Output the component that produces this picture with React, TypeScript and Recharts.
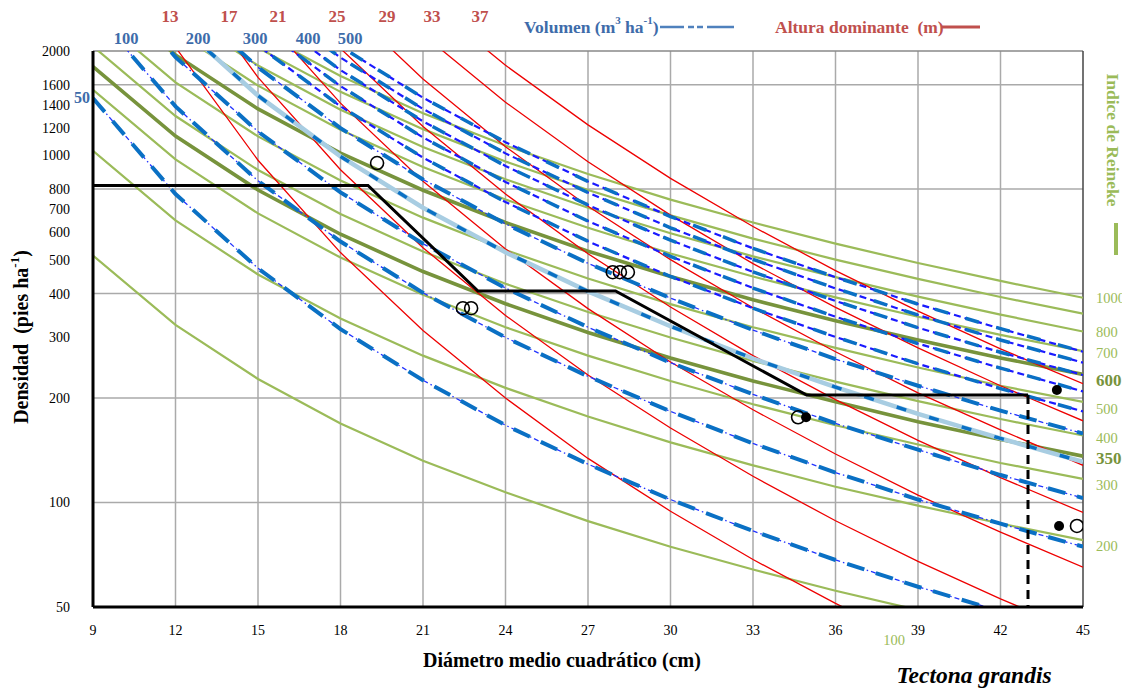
import React from 'react';
import { ComposedChart, Line, Scatter, XAxis, YAxis, CartesianGrid, ReferenceLine } from 'recharts';

// Diámetro medio cuadrático (cm) sample points
const diameters = [9, 12, 15, 18, 21, 24, 27, 30, 33, 36, 39, 42, 45];

// Indice de Reineke lines (pies/ha at each diameter)
const reineke100 = [515, 325, 227, 169, 132, 107, 88.4, 74.6, 64.1, 55.7, 49.0, 43.5, 38.9];
const reineke200 = [1031, 650, 454, 339, 265, 214, 177, 149, 128, 111, 98.0, 87.0, 77.9];
const reineke300 = [1546, 974, 681, 508, 397, 320, 265, 224, 192, 167, 147, 130, 117];
const reineke350 = [1804, 1137, 795, 593, 463, 374, 309, 261, 224, 195, 171, 152, 136];
const reineke400 = [2062, 1299, 908, 678, 529, 427, 354, 299, 256, 223, 196, 174, 156];
const reineke500 = [2577, 1624, 1135, 847, 662, 534, 442, 373, 320, 279, 245, 217, 195];
const reineke600 = [3092, 1949, 1362, 1016, 794, 641, 530, 448, 384, 334, 294, 261, 234];
const reineke700 = [3608, 2274, 1589, 1186, 926, 747, 619, 522, 448, 390, 343, 304, 273];
const reineke800 = [4123, 2598, 1816, 1355, 1058, 854, 707, 597, 512, 446, 392, 348, 311];
const reineke900 = [4639, 2923, 2043, 1525, 1191, 961, 795, 672, 576, 501, 441, 391, 350];
const reineke1000 = [5154, 3248, 2270, 1694, 1323, 1068, 884, 746, 641, 557, 490, 435, 389];

// Altura dominante (m) lines
const altura13 = [5393, 2051, 969, 525, 313, 200, 134, 94.4, 68.5, 51.2, 39.1, 30.5, 24.2];
const altura17 = [9347, 3555, 1679, 910, 542, 346, 233, 164, 119, 88.6, 67.7, 52.8, 41.9];
const altura21 = [14535, 5528, 2612, 1415, 843, 538, 362, 254, 185, 138, 105, 82.2, 65.1];
const altura25 = [20890, 7943, 3753, 2034, 1212, 774, 521, 366, 265, 198, 151, 118, 93.6];
const altura29 = [28620, 10887, 5143, 2787, 1661, 1060, 714, 501, 364, 272, 207, 162, 128];
const altura33 = [38440, 14619, 6906, 3743, 2230, 1424, 959, 673, 488, 365, 279, 217, 172];
const altura37 = [49100, 18676, 8822, 4782, 2849, 1819, 1225, 859, 624, 466, 356, 277, 220];

// Volumen (m3/ha) lines
const volumen50 = [1462, 774, 473, 316, 225, 167, 129, 102, 82.8, 68.3, 57.2, 48.6, 41.7];
const volumen100 = [2615, 1385, 845, 565, 402, 299, 231, 183, 148, 122, 102, 86.9, 74.6];
const volumen150 = [3626, 1920, 1172, 783, 557, 415, 320, 253, 205, 169, 142, 120, 103];
const volumen200 = [4600, 2436, 1487, 994, 707, 526, 406, 322, 260, 215, 180, 153, 131];
const volumen250 = [5548, 2938, 1794, 1199, 853, 635, 489, 388, 314, 259, 217, 184, 158];
const volumen300 = [6414, 3396, 2074, 1386, 986, 734, 566, 448, 363, 300, 251, 213, 183];
const volumen350 = [7332, 3882, 2370, 1584, 1127, 839, 647, 512, 415, 343, 287, 244, 209];
const volumen400 = [8156, 4319, 2637, 1762, 1254, 933, 720, 570, 462, 381, 319, 271, 233];
const volumen450 = [8860, 4692, 2865, 1915, 1362, 1014, 782, 619, 502, 414, 347, 294, 253];
const volumen500 = [9541, 5052, 3085, 2062, 1467, 1092, 842, 667, 540, 446, 373, 317, 272];

// Management (thinning) path
const pathD = [9, 19.0, 23.0, 28.0, 34.95, 43.0];
const pathN = [820, 820, 407, 407, 204, 204];
const cutD = [43.0, 43.0];
const cutN = [204, 50];

// Observed plots
const openD = [19.33, 22.45, 22.75, 27.9, 28.16, 28.45, 34.64, 44.78];
const openN = [951, 363, 363, 461, 461, 461, 176, 85.6];
const filledD = [34.93, 44.05, 44.13];
const filledN = [176, 211, 85.6];

// Axis ticks
const xTicks = [9, 12, 15, 18, 21, 24, 27, 30, 33, 36, 39, 42, 45];
const yTicks = [50, 100, 200, 300, 400, 500, 600, 700, 800, 1000, 1200, 1400, 1600, 2000];
const yGrid = [100, 200, 400, 800, 1600];
const xGrid = [12, 15, 18, 21, 24, 27, 30, 33, 36, 39, 42];

// Labels
const alturaLabels = ['13', '17', '21', '25', '29', '33', '37'];
const volumenLabels = ['100', '200', '300', '400', '500'];

const toPts = (vals: number[]) => diameters.map((d, i) => ({ D: d, N: vals[i] }));
const pair = (xs: number[], ys: number[]) => xs.map((d, i) => ({ D: d, N: ys[i] }));

const reinekeSeries = [
  { id: 'r100', vals: reineke100, bold: false },
  { id: 'r200', vals: reineke200, bold: false },
  { id: 'r300', vals: reineke300, bold: false },
  { id: 'r350', vals: reineke350, bold: true },
  { id: 'r400', vals: reineke400, bold: false },
  { id: 'r500', vals: reineke500, bold: false },
  { id: 'r600', vals: reineke600, bold: true },
  { id: 'r700', vals: reineke700, bold: false },
  { id: 'r800', vals: reineke800, bold: false },
  { id: 'r900', vals: reineke900, bold: false },
  { id: 'r1000', vals: reineke1000, bold: false },
];
const alturaSeries = [altura13, altura17, altura21, altura25, altura29, altura33, altura37];
const volumenSeries = [
  { id: 'v50', vals: volumen50, kind: 'a' },
  { id: 'v100', vals: volumen100, kind: 'a' },
  { id: 'v150', vals: volumen150, kind: 'a' },
  { id: 'v200', vals: volumen200, kind: 'light' },
  { id: 'v250', vals: volumen250, kind: 'a' },
  { id: 'v300', vals: volumen300, kind: 'b' },
  { id: 'v350', vals: volumen350, kind: 'b' },
  { id: 'v400', vals: volumen400, kind: 'b' },
  { id: 'v450', vals: volumen450, kind: 'b' },
  { id: 'v500', vals: volumen500, kind: 'b' },
];

const SERIF = 'Liberation Serif, Times New Roman, serif';
const GREEN = '#9bbb59';
const OLIVE = '#77933c';
const RED = '#c0504d';
const BLUE_T = '#3e6caa';

const OpenCircle = (props: any) => (
  <circle cx={props.cx} cy={props.cy} r={6.5} fill="none" stroke="#000" strokeWidth={1.6} />
);
const FilledDot = (props: any) => (
  <circle cx={props.cx} cy={props.cy} r={5} fill="#000" stroke="none" />
);

export default function App() {
  const lines: any[] = [];
  reinekeSeries.forEach((s) => {
    lines.push(
      <Line key={s.id} data={toPts(s.vals)} dataKey="N" type="linear" stroke={s.bold ? OLIVE : GREEN}
        strokeWidth={s.bold ? 3.6 : 2.2} dot={false} activeDot={false} isAnimationActive={false} />
    );
  });
  alturaSeries.forEach((v, i) => {
    lines.push(
      <Line key={'h' + i} data={toPts(v)} dataKey="N" type="linear" stroke="#ee0000"
        strokeWidth={1.3} dot={false} activeDot={false} isAnimationActive={false} />
    );
  });
  volumenSeries.forEach((s) => {
    if (s.kind === 'light') {
      lines.push(
        <Line key={s.id + 'a'} data={toPts(s.vals)} dataKey="N" type="linear" stroke="#a8cde2"
          strokeWidth={4.5} dot={false} activeDot={false} isAnimationActive={false} />
      );
      lines.push(
        <Line key={s.id + 'b'} data={toPts(s.vals)} dataKey="N" type="linear" stroke="#0a70c4"
          strokeWidth={3.5} strokeDasharray="10 24" dot={false} activeDot={false} isAnimationActive={false} />
      );
    } else if (s.kind === 'a') {
      lines.push(
        <Line key={s.id + 'a'} data={toPts(s.vals)} dataKey="N" type="linear" stroke="#2233ff"
          strokeWidth={1.3} strokeDasharray="5 3 1.5 3" dot={false} activeDot={false} isAnimationActive={false} />
      );
      lines.push(
        <Line key={s.id + 'b'} data={toPts(s.vals)} dataKey="N" type="linear" stroke="#0a70c4"
          strokeWidth={4} strokeDasharray="18 12" dot={false} activeDot={false} isAnimationActive={false} />
      );
    } else {
      lines.push(
        <Line key={s.id + 'a'} data={toPts(s.vals)} dataKey="N" type="linear" stroke="#1a1aff"
          strokeWidth={2.2} strokeDasharray="7 4" dot={false} activeDot={false} isAnimationActive={false} />
      );
      lines.push(
        <Line key={s.id + 'b'} data={toPts(s.vals)} dataKey="N" type="linear" stroke="#0a70c4"
          strokeWidth={3.5} strokeDasharray="14 18" dot={false} activeDot={false} isAnimationActive={false} />
      );
    }
  });

  const redX = [170, 229, 278, 337, 387, 432, 480];
  const blueX = [126, 198, 255, 308, 350];
  const sdiLabels = [
    { t: '1000', y: 298, b: false },
    { t: '800', y: 332, b: false },
    { t: '700', y: 353, b: false },
    { t: '600', y: 380, b: true },
    { t: '500', y: 409, b: false },
    { t: '400', y: 438, b: false },
    { t: '350', y: 458, b: true },
    { t: '300', y: 485, b: false },
    { t: '200', y: 546, b: false },
  ];

  return (
    <div style={{ position: 'relative', width: 1120, height: 680 }}>
      <ComposedChart width={1120} height={680} margin={{ top: 43, right: 45, bottom: 0, left: 0 }}>
        <CartesianGrid stroke="#aaaaaa" strokeWidth={1.5} horizontalValues={yGrid} verticalValues={xGrid} />
        <XAxis dataKey="D" type="number" domain={[9, 45]} ticks={xTicks} allowDataOverflow height={81}
          interval={0} tickLine={false} tickSize={6} tickMargin={12}
          axisLine={{ stroke: '#000', strokeWidth: 3 }}
          tick={{ fill: '#000', fontSize: 14, fontFamily: SERIF }} />
        <YAxis dataKey="N" type="number" scale="log" domain={[50, 2000]} ticks={yTicks} allowDataOverflow width={85}
          interval={0} tickLine={false} tickSize={6} tickMargin={17}
          axisLine={{ stroke: '#000', strokeWidth: 3 }}
          tick={{ fill: '#000', fontSize: 14, fontFamily: SERIF }} />
        <ReferenceLine y={2000} stroke="#888888" strokeWidth={1.5} />
        <ReferenceLine x={45} stroke="#444444" strokeWidth={1.5} />
        {lines}
        <Line data={pair(pathD, pathN)} dataKey="N" type="linear" stroke="#000" strokeWidth={3}
          dot={false} activeDot={false} isAnimationActive={false} />
        <Line data={pair(cutD, cutN)} dataKey="N" type="linear" stroke="#000" strokeWidth={3}
          strokeDasharray="9 6" dot={false} activeDot={false} isAnimationActive={false} />
        <Scatter data={pair(openD, openN)} dataKey="N" shape={OpenCircle} isAnimationActive={false} />
        <Scatter data={pair(filledD, filledN)} dataKey="N" shape={FilledDot} isAnimationActive={false} />
      </ComposedChart>
      <svg width={1130} height={690} style={{ position: 'absolute', left: -8, top: -8, pointerEvents: 'none' }}
        fontFamily={SERIF}>
        {alturaLabels.map((t, i) => (
          <text key={'al' + i} x={redX[i]} y={16} textAnchor="middle" dominantBaseline="central"
            fontSize={17} fontWeight="bold" fill={RED}>{t}</text>
        ))}
        {volumenLabels.map((t, i) => (
          <text key={'vl' + i} x={blueX[i]} y={38} textAnchor="middle" dominantBaseline="central"
            fontSize={16.5} fontWeight="bold" fill={BLUE_T}>{t}</text>
        ))}
        <text x={82} y={97} textAnchor="middle" dominantBaseline="central" fontSize={16} fontWeight="bold" fill={BLUE_T}>50</text>

        <text x={524} y={27} dominantBaseline="central" fontSize={17.5} fontWeight="bold" fill={BLUE_T}>
          Volumen (m<tspan dy={-7} fontSize={11}>3</tspan><tspan dy={7}> ha</tspan><tspan dy={-7} fontSize={11}>-1</tspan><tspan dy={7}>)</tspan>
        </text>
        <line x1={660} y1={27} x2={734} y2={27} stroke="#4f81bd" strokeWidth={2.5} strokeDasharray="24 4 6 3 6 4 27" />
        <text x={775} y={27} dominantBaseline="central" fontSize={17.5} fontWeight="bold" fill={RED}
          style={{ whiteSpace: 'pre' }}>{'Altura dominante  (m)'}</text>
        <line x1={942} y1={27} x2={980} y2={27} stroke={RED} strokeWidth={3} />

        <text x={21} y={337} transform="rotate(-90 21 337)" textAnchor="middle" dominantBaseline="central"
          fontSize={20} fontWeight="bold" fill="#000" style={{ whiteSpace: 'pre' }}>
          {'Densidad  (pies ha'}<tspan dy={-7} fontSize={13}>-1</tspan><tspan dy={7}>)</tspan>
        </text>
        <text x={562} y={660} textAnchor="middle" dominantBaseline="central" fontSize={20} fontWeight="bold" fill="#000">
          Diámetro medio cuadrático (cm)
        </text>
        <text x={974} y={675} textAnchor="middle" dominantBaseline="central" fontSize={23.5} fontWeight="bold"
          fontStyle="italic" fill="#000">Tectona grandis</text>

        <text x={1113} y={140} transform="rotate(90 1113 140)" textAnchor="middle" dominantBaseline="central"
          fontSize={17.5} fontWeight="bold" fill={GREEN}>Indice de Reineke</text>
        <line x1={1116} y1={223} x2={1116} y2={255} stroke={GREEN} strokeWidth={4} />
        {sdiLabels.map((l) => (
          <text key={'sdi' + l.t} x={1096} y={l.y} dominantBaseline="central" fontSize={l.b ? 17 : 14.5}
            fontWeight={l.b ? 'bold' : 'normal'} fill={l.b ? OLIVE : GREEN}>{l.t}</text>
        ))}
        <text x={894} y={640} textAnchor="middle" dominantBaseline="central" fontSize={14.5} fill={GREEN}>100</text>
      </svg>
    </div>
  );
}
